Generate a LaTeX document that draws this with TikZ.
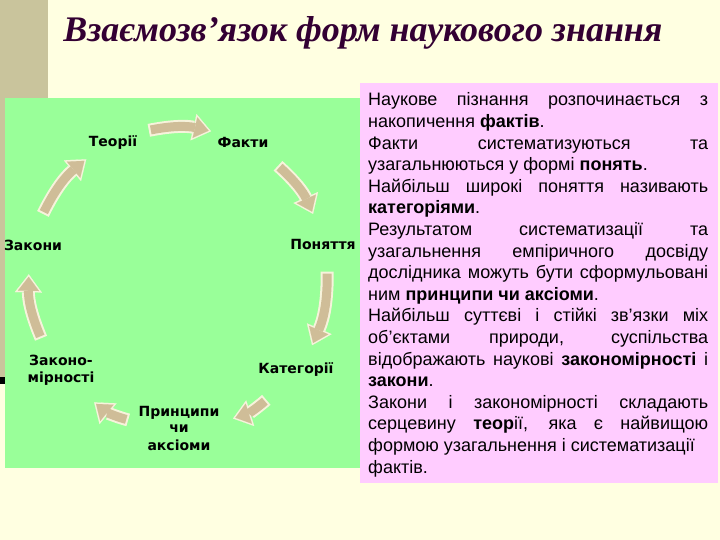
\documentclass[tikz,border=0pt]{standalone}
\usepackage{fontspec}
\setmainfont{Liberation Sans}
\newfontfamily\titlefont{Liberation Serif}
\newfontfamily\lblfont{DejaVu Sans}
\usetikzlibrary{arrows.meta}
\definecolor{slidecream}{HTML}{FFFFE1}
\definecolor{slidetan}{HTML}{C9C49C}
\definecolor{boxgreen}{HTML}{99FF99}
\definecolor{boxpink}{HTML}{FFCCFF}
\definecolor{arrowtan}{HTML}{CFBD98}
\definecolor{arrowedge}{HTML}{F7F3DC}
\definecolor{titleplum}{HTML}{330033}
% arrow along the bend from #1 to #2, between positions #3 and #4
\newcommand{\formarrow}[4]{%
  \path (#1.center) to[bend left=25] coordinate[pos=#3] (fa) coordinate[pos=#4] (fb) (#2.center);
  \draw[cycedge] (fa) to[bend left=12] (fb);
  \draw[cyc,shorten <=2pt,shorten >=2.5pt] (fa) to[bend left=12] (fb);}

\begin{document}
\begin{tikzpicture}[x=1pt,y=1pt,
  lbl/.style={font=\lblfont\bfseries\fontsize{14}{17}\selectfont,text=black,align=center,inner sep=1pt},
  cyc/.style={draw=arrowtan,line width=9pt,-{Triangle[length=14pt,width=21pt,line width=0.1pt]}},
  cycedge/.style={draw=arrowedge,line width=13pt,-{Triangle[length=18pt,width=27pt,line width=0.1pt]}},
  txt/.style={font=\fontsize{18}{21.6}\selectfont,text width=340pt,align=justify,inner sep=0pt}]
  \useasboundingbox (0,0) rectangle (720,540);
  % slide background
  \fill[slidecream] (0,0) rectangle (720,540);
  \fill[slidetan] (0,160) rectangle (5,540);
  \fill[slidetan] (0,442) rectangle (48,540);
  \fill[black] (0,156) rectangle (5,163);
  \node[font=\titlefont\bfseries\itshape\fontsize{36}{40}\selectfont,text=titleplum,anchor=base]
    (title) at (363,498) {Взаємозв’язок форм наукового знання};
  % left panel: the cycle
  \fill[boxgreen] (5,72) rectangle (362,442);
  \node[lbl] (teorii) at (113,397) {Теорії};
  \node[lbl] (fakty) at (243,397) {Факти};
  \node[lbl] (ponyattya) at (323,295) {Поняття};
  \node[lbl] (katehorii) at (296,170) {Категорії};
  \node[lbl] (pryntsypy) at (179,112) {Принципи\\чи\\аксіоми};
  \node[lbl] (zakonomirn) at (61,170) {Законо-\\мірності};
  \node[lbl] (zakony) at (33,295) {Закони};
  \formarrow{teorii}{fakty}{0.27}{0.76}
  \formarrow{fakty}{ponyattya}{0.30}{0.77}
  \formarrow{ponyattya}{katehorii}{0.19}{0.79}
  \formarrow{katehorii}{pryntsypy}{0.30}{0.60}
  \formarrow{pryntsypy}{zakonomirn}{0.37}{0.67}
  \formarrow{zakonomirn}{zakony}{0.27}{0.79}
  \formarrow{zakony}{teorii}{0.23}{0.78}
  % right panel: the text
  \fill[boxpink] (360,57) rectangle (718,457);
  \node[txt,anchor=base west] (story) at (368,434) {%
    \tolerance=10000\emergencystretch=10pt\hyphenpenalty=10000\parindent=0pt
    Наукове пізнання розпочинається з\linebreak накопичення \textbf{фактів}.\par
    Факти систематизуються та\linebreak узагальнюються у формі \textbf{понять}.\par
    Найбільш широкі поняття називають\linebreak \textbf{категоріями}.\par
    Результатом систематизації та\linebreak узагальнення емпіричного досвіду\linebreak
    дослідника можуть бути сформульовані\linebreak ним \textbf{принципи чи аксіоми}.\par
    Найбільш суттєві і стійкі зв’язки міх\linebreak об’єктами природи, суспільства\linebreak
    відображають наукові \textbf{закономірності} і\linebreak \textbf{закони}.\par
    Закони і закономірності складають\linebreak серцевину \textbf{теор}ії, яка є найвищою\linebreak
    формою узагальнення і систематизації\newline фактів.};
\end{tikzpicture}
\end{document}
